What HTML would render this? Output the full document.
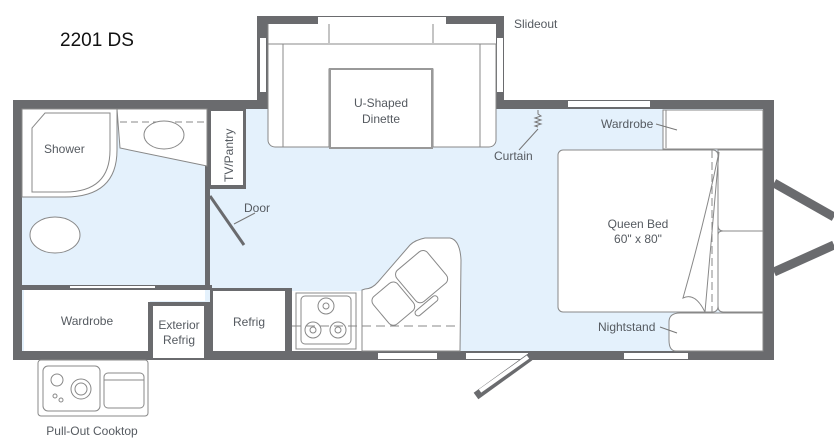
<!DOCTYPE html>
<html><head><meta charset="utf-8"><style>
html,body{margin:0;padding:0;background:#fff;}
svg{display:block;}
text{font-family:"Liberation Sans",sans-serif;fill:#555a60;}
</style></head><body>
<svg width="834" height="438" viewBox="0 0 834 438" xmlns="http://www.w3.org/2000/svg">
<rect width="834" height="438" fill="#fff"/>
<text x="60" y="46" font-size="19" style="fill:#111">2201 DS</text>
<text x="514" y="28" font-size="12">Slideout</text>

<!-- slideout walls -->
<rect x="257" y="16" width="247" height="93" fill="#6a6b6e"/>
<rect x="268" y="24" width="228" height="85" fill="#fff"/>
<rect x="318" y="17" width="128" height="7" fill="#fff"/>
<rect x="260" y="38" width="6" height="54" fill="#fff"/>
<rect x="497" y="38" width="6" height="54" fill="#fff"/>

<!-- main walls -->
<rect x="13" y="100" width="761" height="260" fill="#6a6b6e"/>
<rect x="22" y="109" width="741" height="242" fill="#e4f1fc"/>
<rect x="268" y="100" width="228" height="10" fill="#e4f1fc"/>
<rect x="568" y="101" width="82" height="6" fill="#fff"/>
<rect x="378" y="353" width="59" height="6" fill="#fff"/>
<rect x="466" y="353" width="62" height="6" fill="#fff"/>
<rect x="624" y="353" width="64" height="6" fill="#fff"/>

<!-- hitch -->
<line x1="774" y1="183" x2="834" y2="217" stroke="#6a6b6e" stroke-width="9"/>
<line x1="774" y1="272" x2="834" y2="245" stroke="#6a6b6e" stroke-width="9"/>

<!-- dinette -->
<g fill="#fff" stroke="#888" stroke-width="1">
<rect x="268" y="24" width="228" height="20" stroke="none"/>
<line x1="329" y1="24" x2="329" y2="43"/><line x1="433" y1="24" x2="433" y2="43"/>
<path d="M268 24 V140 a7 7 0 0 0 7 7 H283 V44 H268"/>
<path d="M283 44 H480 V140 a7 7 0 0 1 -7 7 H283 Z"/>
<path d="M283 44 V147 H329 V69 H433 V147 H480 V44 Z"/>
<path d="M480 44 H496 V140 a7 7 0 0 1 -7 7 H480 Z"/>
<rect x="330" y="69" width="102" height="79" stroke="#999" stroke-width="2" fill="#fff"/>
</g>
<text x="381" y="107" font-size="12" text-anchor="middle">U-Shaped</text>
<text x="381" y="123" font-size="12" text-anchor="middle">Dinette</text>

<!-- bathroom -->
<rect x="205" y="109" width="5" height="180" fill="#6a6b6e"/>
<path d="M22 109 H117 V150 Q117 197 65 197 H22 Z" fill="#fff" stroke="#888"/>
<path d="M45 113 H110 V150 Q110 192 65 192 H32 V128 Z" fill="#fff" stroke="#888"/>
<path d="M117 109 H207 V166 L120 148 Z" fill="#fff" stroke="#888"/>
<line x1="120" y1="122" x2="205" y2="122" stroke="#888" stroke-dasharray="7,4"/>
<ellipse cx="164" cy="135" rx="20" ry="14" fill="#fff" stroke="#888"/>
<ellipse cx="55" cy="235" rx="25" ry="18" fill="#fff" stroke="#888"/>
<rect x="208" y="109" width="38" height="80" fill="#6a6b6e"/>
<rect x="211" y="111" width="32" height="74" fill="#fff"/>
<text transform="translate(233,182) rotate(-90)" font-size="12">TV/Pantry</text>

<!-- door -->
<line x1="210" y1="196" x2="244" y2="245" stroke="#6a6b6e" stroke-width="3"/>
<line x1="234" y1="224" x2="255" y2="213" stroke="#777"/>
<text x="244" y="212" font-size="12">Door</text>
<text x="44" y="153" font-size="12">Shower</text>

<!-- bottom left -->
<rect x="22" y="285" width="190" height="5" fill="#6a6b6e"/>
<rect x="70" y="286" width="85" height="2" fill="#fff"/>
<rect x="24" y="290" width="126" height="61" fill="#fff"/>
<rect x="148" y="302" width="64" height="58" fill="#6a6b6e"/>
<rect x="153" y="306" width="51" height="52" fill="#fff"/>
<rect x="150" y="290" width="55" height="11" fill="#fff"/>
<text x="87" y="325" font-size="12" text-anchor="middle">Wardrobe</text>
<text x="179" y="329" font-size="12" text-anchor="middle">Exterior</text>
<text x="179" y="344" font-size="12" text-anchor="middle">Refrig</text>

<rect x="210" y="288" width="82" height="63" fill="#6a6b6e"/>
<rect x="213" y="291" width="72" height="60" fill="#fff"/>
<text x="249" y="326" font-size="12" text-anchor="middle">Refrig</text>

<!-- stove -->
<rect x="292" y="291" width="70" height="60" fill="#fff"/>
<rect x="296" y="293" width="60" height="56" fill="#fff" stroke="#888"/>
<rect x="301" y="296" width="50" height="48" rx="4" fill="#fff" stroke="#888"/>
<circle cx="326" cy="306" r="8" fill="#fff" stroke="#888"/><circle cx="326" cy="306" r="3" fill="#fff" stroke="#888"/>
<circle cx="313" cy="330" r="8" fill="#fff" stroke="#888"/><circle cx="313" cy="330" r="3" fill="#fff" stroke="#888"/>
<circle cx="338" cy="330" r="8" fill="#fff" stroke="#888"/><circle cx="338" cy="330" r="3" fill="#fff" stroke="#888"/>

<!-- kitchen counter -->
<path d="M362 351 V290 L365 289 Q372 289 378 282 L410 245 Q415 240 425 238 L450 238 Q460 240 461 260 L460 351 Z" fill="#fff" stroke="#888"/>
<g transform="rotate(-40 408 290)" fill="#fff" stroke="#888">
<rect x="372" y="273" width="32" height="36" rx="6"/>
<rect x="407" y="268" width="40" height="41" rx="6"/>
<rect x="398" y="311" width="28" height="6" rx="3"/>
</g>
<line x1="292" y1="326" x2="460" y2="326" stroke="#888" stroke-dasharray="9,5"/>

<!-- entry door -->
<line x1="530" y1="357" x2="476" y2="396" stroke="#6a6b6e" stroke-width="8"/>
<line x1="528" y1="357" x2="480" y2="391" stroke="#fff" stroke-width="4"/>

<!-- curtain -->
<path d="M538 110 v4 l3 2 -6 2 6 2 -6 2 6 2 -6 2 3 1" fill="none" stroke="#777"/>
<line x1="538" y1="129" x2="519" y2="150" stroke="#777"/>
<text x="494" y="160" font-size="12">Curtain</text>

<!-- wardrobe right -->
<rect x="663" y="110" width="100" height="39" fill="#fff" stroke="#888"/>
<line x1="666" y1="110" x2="666" y2="148" stroke="#888"/>
<text x="601" y="128" font-size="12">Wardrobe</text>
<line x1="656" y1="124" x2="677" y2="130" stroke="#777"/>

<!-- bed -->
<rect x="558" y="150" width="160" height="162" rx="5" fill="#fff" stroke="#888"/>
<path d="M718 150 H763 V231 H723 Q718 231 718 225 Z" fill="#fff" stroke="#888"/>
<path d="M718 235 Q718 231 723 231 H763 V312 H723 Q718 312 718 306 Z" fill="#fff" stroke="#888"/>
<path d="M719 152 Q705 220 683 298 Q695 292 705 312 Q712 230 719 152 Z" fill="#fff" stroke="#888"/>
<line x1="712" y1="150" x2="712" y2="351" stroke="#888" stroke-dasharray="8,4"/>
<text x="638" y="228" font-size="12" text-anchor="middle">Queen Bed</text>
<text x="638" y="243" font-size="12" text-anchor="middle">60" x 80"</text>

<!-- nightstand -->
<path d="M680 313 H763 V351 H676 Q669 351 669 340 V322 Q669 313 680 313 Z" fill="#fff" stroke="#888"/>
<text x="598" y="331" font-size="12">Nightstand</text>
<line x1="660" y1="327" x2="677" y2="333" stroke="#777"/>

<!-- pull out cooktop -->
<rect x="38" y="360" width="110" height="56" rx="3" fill="#fff" stroke="#888"/>
<rect x="43" y="366" width="57" height="45" rx="5" fill="#fff" stroke="#888"/>
<circle cx="57" cy="380" r="6" fill="#fff" stroke="#888"/>
<circle cx="81" cy="389" r="10" fill="#fff" stroke="#888"/><circle cx="81" cy="389" r="6" fill="#fff" stroke="#888"/>
<circle cx="55" cy="396" r="2" fill="#fff" stroke="#888"/><circle cx="61" cy="400" r="2" fill="#fff" stroke="#888"/>
<rect x="104" y="373" width="40" height="35" rx="4" fill="#fff" stroke="#888"/>
<line x1="104" y1="380" x2="144" y2="380" stroke="#888"/>
<text x="92" y="435" font-size="12" text-anchor="middle">Pull-Out Cooktop</text>
</svg>
</body></html>
